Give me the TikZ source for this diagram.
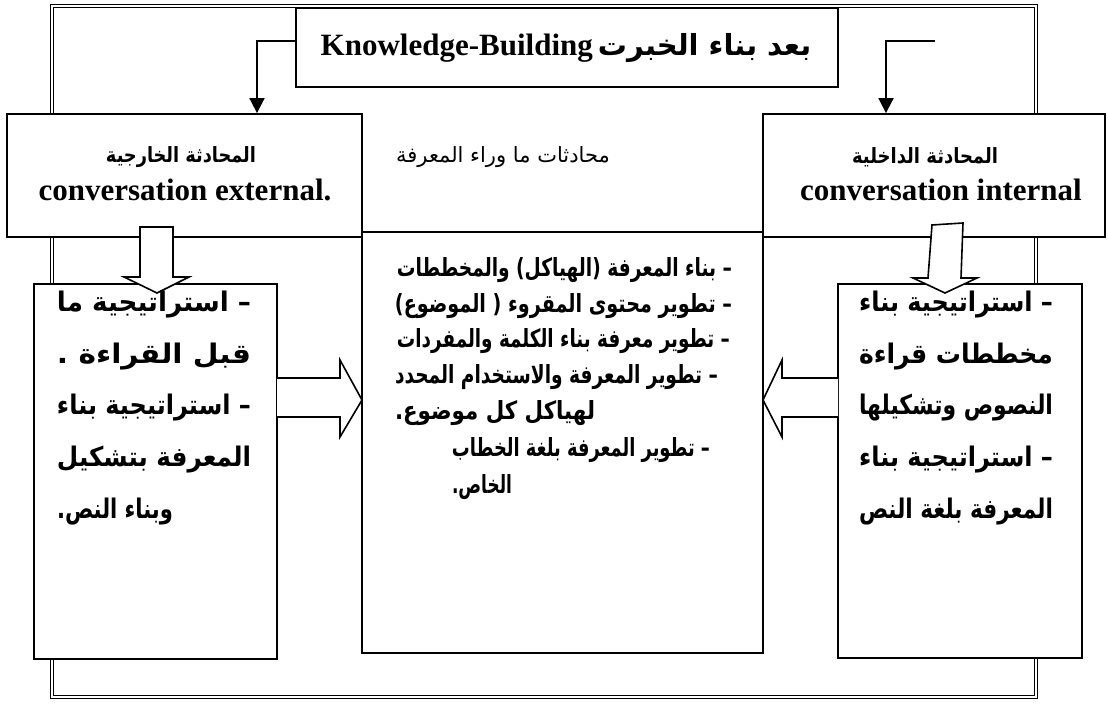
\documentclass[tikz,border=0pt]{standalone}
\usepackage{fontspec}
\usepackage{graphicx}
\setmainfont{Liberation Serif}
\TeXXeTstate=1
\newfontfamily\arsans[Script=Arabic]{DejaVu Sans}
\usetikzlibrary{arrows.meta,fit}
\newcommand\fitw[2]{\resizebox{#1}{\height}{#2}}
\tikzset{
  box/.style={draw, line width=0.9pt, fill=white, inner sep=0pt},
  frame/.style={draw, double, double distance=1pt, line width=0.6pt},
  conn/.style={line width=0.9pt, -{Triangle[width=7.5pt,length=7.5pt]}},
  blockarrow/.style={draw, fill=white, line width=0.8pt, line join=miter},
  txt/.style={inner sep=0pt, outer sep=0pt},
  ctr/.style={txt, font=\arsans\bfseries\fontsize{12.5}{14}\selectfont},
  side/.style={txt, font=\arsans\bfseries\fontsize{13.5}{15}\selectfont},
  head/.style={txt, font=\arsans\bfseries\fontsize{10.5}{12}\selectfont},
  lat/.style={txt, font=\bfseries\fontsize{15.5}{17}\selectfont},
}
\begin{document}
\begin{tikzpicture}[x=0.5pt,y=-0.5pt]
\useasboundingbox (0,0) rectangle (1108,704);
% outer double frame
\draw[frame] (52,6) rectangle (1036,697);
% boxes
\node[box, fit={(362,232) (763,653)}] (mid) {};
\node[box, fit={(7,114) (362,237)}] (ext) {};
\node[box, fit={(763,114) (1105,237)}] (int) {};
\node[box, fit={(34,284) (277,659)}] (lowL) {};
\node[box, fit={(838,284) (1082,658)}] (lowR) {};
\node[box, fit={(296,8) (838,87)}] (title) {};
% connectors
\coordinate (rs) at (935,41);
\draw[conn] ([yshift=3.25pt]title.west) -| ([xshift=36.25pt]ext.north);
\draw[conn] (rs) -| ([xshift=-24pt]int.north);
% block arrows
\filldraw[blockarrow] (140,227) -- (173,227) -- (173,277) -- (189,277) -- (157,293) -- (124,277) -- (140,277) -- cycle;
\filldraw[blockarrow] (932,225) -- (963,223) -- (961,278) -- (977,278) -- (945,293) -- (913,278) -- (928,278) -- cycle;
\filldraw[blockarrow] (277,378) -- (340,378) -- (340,360) -- (362,400) -- (340,437) -- (340,417) -- (277,417);
\filldraw[blockarrow] (838,378) -- (782,378) -- (782,360) -- (763,400) -- (782,437) -- (782,417) -- (838,417);
% texts
\node[txt] (ttxt) at (566,48) {\beginR{\arsans\bfseries\fontsize{14.5}{16}\selectfont بعد بناء الخبرت} {\bfseries\fontsize{15.5}{17}\selectfont\beginL Knowledge-Building\endL}\endR};
\node[head] (extar) at (181,157) {\fitw{75pt}{\beginR المحادثة الخارجية\endR}};
\node[lat] (exten) at (185,190) {conversation external.};
\node[head] (intar) at (925,157) {\fitw{73pt}{\beginR المحادثة الداخلية\endR}};
\node[lat] (inten) at (941,190) {conversation internal};
\node[txt, font=\arsans\fontsize{10.5}{12}\selectfont] (meta) at (503,157) {\beginR محادثات ما وراء المعرفة\endR};
% centre box
\node[ctr, anchor=east] (c1) at (732,270) {\fitw{167.5pt}{\beginR – بناء المعرفة (الهياكل) والمخططات\endR}};
\node[ctr, anchor=east] (c2) at (732,306) {\fitw{168.5pt}{\beginR – تطوير محتوى المقروء ( الموضوع)\endR}};
\node[ctr, anchor=east] (c3) at (730,341) {\fitw{166.5pt}{\beginR – تطوير معرفة بناء الكلمة والمفردات\endR}};
\node[ctr, anchor=east] (c4) at (718,377) {\fitw{161.5pt}{\beginR – تطوير المعرفة والاستخدام المحدد\endR}};
\node[ctr, anchor=west] (c5) at (395,413) {\fitw{100pt}{\beginR لهياكل كل موضوع.\endR}};
\node[ctr, anchor=east] (c6) at (710,450) {\fitw{129pt}{\beginR – تطوير المعرفة بلغة الخطاب\endR}};
\node[ctr, anchor=west] (c7) at (452,487) {\fitw{30pt}{\beginR الخاص.\endR}};
% left lower box
\node[side, anchor=east] (l1) at (251,305) {\fitw{97pt}{\beginR – استراتيجية ما\endR}};
\node[side, anchor=east] (l2) at (251,357) {\fitw{97pt}{\beginR قبل القراءة .\endR}};
\node[side, anchor=east] (l3) at (251,408) {\fitw{97pt}{\beginR – استراتيجية بناء\endR}};
\node[side, anchor=east] (l4) at (251,460) {\fitw{97pt}{\beginR المعرفة بتشكيل\endR}};
\node[side, anchor=west] (l5) at (57,512) {\fitw{58pt}{\beginR وبناء النص.\endR}};
% right lower box
\node[side, anchor=east] (r1) at (1053,305) {\fitw{97pt}{\beginR – استراتيجية بناء\endR}};
\node[side, anchor=east] (r2) at (1053,357) {\fitw{97pt}{\beginR مخططات قراءة\endR}};
\node[side, anchor=east] (r3) at (1053,408) {\fitw{97pt}{\beginR النصوص وتشكيلها\endR}};
\node[side, anchor=east] (r4) at (1053,460) {\fitw{97pt}{\beginR – استراتيجية بناء\endR}};
\node[side, anchor=east] (r5) at (1053,512) {\fitw{97pt}{\beginR المعرفة بلغة النص\endR}};
\end{tikzpicture}
\end{document}
